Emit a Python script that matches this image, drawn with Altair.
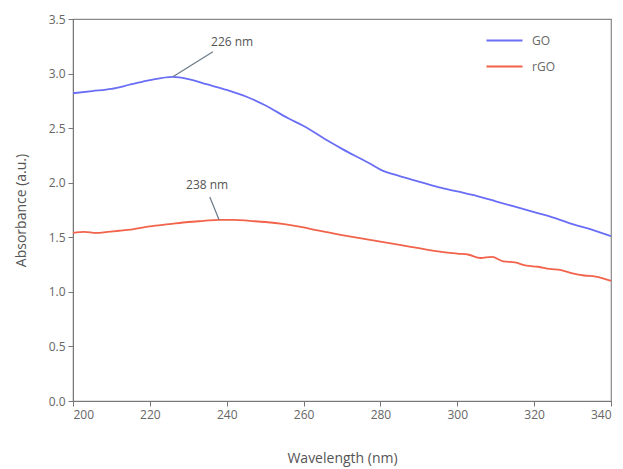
import altair as alt
import pandas as pd

wl_go = [200, 205, 210, 215, 220, 226, 230, 235, 240, 245, 250, 256, 260, 267, 270, 277, 280, 285, 290, 295, 300, 305, 310, 315, 320, 325, 330, 335, 340]
abs_go = [2.82, 2.84, 2.86, 2.90, 2.94, 2.97, 2.95, 2.90, 2.85, 2.79, 2.71, 2.59, 2.52, 2.37, 2.31, 2.18, 2.12, 2.06, 2.01, 1.96, 1.92, 1.88, 1.83, 1.78, 1.73, 1.68, 1.62, 1.57, 1.51]

wl_rgo = [200, 203, 206, 209, 212, 215, 220, 225, 230, 234, 238, 242, 246, 250, 255, 260, 264, 270, 275, 280, 285, 290, 295, 300, 303, 306, 309, 312, 315, 318, 321, 324, 327, 330, 333, 336, 340]
abs_rgo = [1.54, 1.55, 1.54, 1.55, 1.56, 1.57, 1.60, 1.62, 1.64, 1.65, 1.66, 1.66, 1.65, 1.64, 1.62, 1.59, 1.56, 1.52, 1.49, 1.46, 1.43, 1.40, 1.37, 1.35, 1.34, 1.31, 1.32, 1.28, 1.27, 1.24, 1.23, 1.21, 1.20, 1.17, 1.15, 1.14, 1.10]

series_names = ["GO", "rGO"]
series_colors = ["#6a6ef5", "#f2634c"]

ann_text = ["226 nm", "238 nm"]
ann_text_x = [241.4, 234.9]
ann_text_y = [3.29, 1.98]
ann_tip_x = [226, 238]
ann_tip_y = [2.97, 1.66]
ann_start_x = [236.4, 235.6]
ann_start_y = [3.20, 1.87]

df = pd.concat([
    pd.DataFrame({"Wavelength": wl_go, "Absorbance": abs_go, "Sample": "GO"}),
    pd.DataFrame({"Wavelength": wl_rgo, "Absorbance": abs_rgo, "Sample": "rGO"}),
])
ann = pd.DataFrame({"text": ann_text, "tx": ann_text_x, "ty": ann_text_y,
                    "x1": ann_start_x, "y1": ann_start_y, "x2": ann_tip_x, "y2": ann_tip_y})

xscale = alt.Scale(domain=[200, 340], nice=False, zero=False)
yscale = alt.Scale(domain=[0, 3.5], nice=False)

lines = alt.Chart(df).mark_line(strokeWidth=1.8, interpolate="monotone").encode(
    x=alt.X("Wavelength:Q", scale=xscale,
            axis=alt.Axis(title="Wavelength (nm)", values=list(range(200, 341, 20)),
                          titlePadding=31)),
    y=alt.Y("Absorbance:Q", scale=yscale,
            axis=alt.Axis(title="Absorbance (a.u.)", values=[0, 0.5, 1, 1.5, 2, 2.5, 3, 3.5],
                          format=".1f", titlePadding=20)),
    color=alt.Color("Sample:N", scale=alt.Scale(domain=series_names, range=series_colors),
                    legend=alt.Legend(title=None, orient="none", legendX=412, legendY=2,
                                      symbolType="stroke", symbolSize=1300, symbolStrokeWidth=2,
                                      labelFontSize=12, labelColor="#666", rowPadding=-8,
                                      labelOffset=8)),
)

leaders = alt.Chart(ann).mark_rule(color="#6b7a88", strokeWidth=1.2).encode(
    x="x1:Q", y="y1:Q", x2="x2:Q", y2="y2:Q")

labels = alt.Chart(ann).mark_text(fontSize=12, color="#555", font="Open Sans").encode(
    x="tx:Q", y="ty:Q", text="text:N")

chart = alt.layer(lines, leaders, labels).properties(
    width=538, height=382,
    autosize=alt.AutoSizeParams(type="none"),
    padding={"left": 65, "top": 11, "right": 4, "bottom": 68},
).configure(font="Open Sans").configure_axis(
    grid=False, domainColor="#777", tickColor="#777", labelColor="#666",
    titleColor="#555", labelFontSize=12, titleFontSize=14, titleFontWeight="normal",
    tickSize=5, labelPadding=3,
).configure_view(stroke="#888", strokeWidth=1.2)

chart.save("out.html", embed_options={"renderer": "svg", "actions": False})
